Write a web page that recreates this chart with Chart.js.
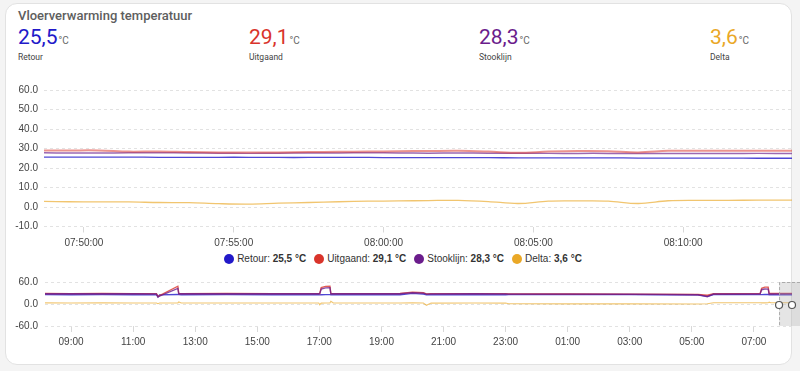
<!DOCTYPE html>
<html>
<head>
<meta charset="utf-8">
<script src="https://cdn.jsdelivr.net/npm/chart.js@4/dist/chart.umd.min.js"></script>
<style>
  body { margin: 0; width: 800px; height: 371px; background: #f4f4f4; position: relative; overflow: hidden; font-family: Roboto, sans-serif; }
  .card { position: absolute; left: 5px; top: 3px; width: 785px; height: 360px; background: #fff; border: 1px solid #e2e2e2; border-radius: 12px; }
  .titel { position: absolute; left: 18px; top: 8px; font-size: 13px; font-weight: 500; color: #5e5e5e; }
  .waarde { position: absolute; top: 27px; line-height: 1; }
  .waarde .getal { font-size: 21px; }
  .waarde .eenheid { font-size: 10px; color: #666; margin-left: 1px; }
  .naam { position: absolute; top: 52px; font-size: 8.5px; color: #444; }
  #legenda { position: absolute; left: 0; top: 253px; width: 806px; display: flex; justify-content: center; font-family: "Liberation Sans", Arial, sans-serif; font-size: 10px; color: #333; }
  #legenda .item { display: flex; align-items: center; margin: 0 4px; }
  #legenda .bol { width: 10px; height: 10px; border-radius: 50%; margin-right: 3px; }
  .grafiek { position: absolute; left: 0; width: 800px; }
</style>
</head>
<body>
<div class="card"></div>
<div class="titel">Vloerverwarming temperatuur</div>
<div id="kop"></div>
<div class="grafiek" style="top:78px;height:175px"><canvas id="grafiekBoven"></canvas></div>
<div id="legenda"></div>
<div class="grafiek" style="top:269px;height:86px"><canvas id="grafiekOnder"></canvas></div>

<script>
// reeksen
const namen = ["Retour", "Uitgaand", "Stooklijn", "Delta"];
const kleuren = ["#2219c9", "#d9342b", "#6b1d8c", "#eaa827"];
const huidig = ["25,5", "29,1", "28,3", "3,6"];
const kopX = [18, 249, 479, 710];

// bovenste grafiek (laatste 25 minuten)
const tijdenBoven = ["07:48:40", "07:49:30", "07:50:30", "07:51:30", "07:52:30", "07:53:30", "07:54:30", "07:55:30",
  "07:56:30", "07:57:30", "07:58:30", "07:59:30", "08:00:30", "08:01:30", "08:02:30", "08:03:30", "08:04:30",
  "08:05:30", "08:06:30", "08:07:30", "08:08:30", "08:09:30", "08:10:30", "08:11:30", "08:12:30", "08:13:40"];
const retourBoven = [25.6, 25.6, 25.6, 25.6, 25.5, 25.5, 25.5, 25.5, 25.4, 25.4, 25.4, 25.4, 25.3,
  25.3, 25.3, 25.3, 25.2, 25.2, 25.2, 25.2, 25.1, 25.1, 25.1, 25.1, 25.0, 25.0];
const uitgaandBoven = [29.0, 29.0, 29.0, 28.4, 28.5, 28.2, 28.0, 27.9, 28.0, 28.2, 28.3, 28.4, 28.6,
  28.7, 28.8, 28.4, 27.8, 28.4, 28.7, 28.6, 28.0, 28.8, 28.9, 28.9, 28.9, 28.9];
const stooklijnBoven = [27.8, 27.7, 27.7, 27.8, 27.8, 27.7, 27.6, 27.5, 27.6, 27.7, 27.7, 27.8, 27.7,
  27.6, 27.7, 27.6, 27.6, 27.5, 27.5, 27.5, 27.4, 27.4, 27.4, 27.4, 27.5, 27.4];
const deltaBoven = [2.9, 2.7, 2.6, 2.6, 2.3, 2.2, 1.7, 1.5, 2.0, 2.3, 2.7, 3.0, 3.1,
  3.3, 3.4, 2.8, 1.8, 3.0, 3.1, 3.0, 1.8, 3.2, 3.4, 3.4, 3.5, 3.5];
const tickLabelsBoven = ["07:50:00", "07:55:00", "08:00:00", "08:05:00", "08:10:00"];
const yTicksBoven = [-10, 0, 10, 20, 30, 40, 50, 60];

// onderste grafiek (24 uur, uren vanaf middernacht van gisteren)
const urenOnder = [8.16, 9, 10, 11, 11.75, 11.80, 11.85, 12.44, 12.47, 12.55, 14, 15.5, 16.98, 17.01, 17.06,
  17.2, 17.34, 17.37, 17.45, 18.5, 19.6, 20.0, 20.35, 20.45, 20.6, 22, 23.0, 23.1, 25, 27, 29.2, 29.5, 29.7,
  30.5, 31.2, 31.25, 31.35, 31.46, 31.49, 31.55, 32.23];
const retourOnder = [25.5, 25.4, 25.5, 25.4, 25.3, 19.0, 25.0, 26.0, 25.5, 25.4, 25.5, 25.4, 25.3, 25.0, 25.2,
  25.5, 25.6, 25.4, 25.4, 25.3, 25.4, 29.0, 27.0, 25.2, 25.3, 25.4, 25.3, 25.8, 25.9, 25.7, 24.5, 21.0, 25.5,
  25.6, 25.5, 25.6, 25.8, 25.9, 25.4, 25.3, 25.0];
const uitgaandOnder = [28.6, 28.4, 28.6, 28.3, 28.2, 20.5, 23.0, 48.5, 28.5, 28.4, 28.5, 28.3, 28.3, 28.0, 45.0,
  48.0, 48.5, 28.5, 28.3, 28.4, 28.5, 32.0, 30.5, 27.5, 28.2, 28.3, 28.3, 27.5, 27.2, 26.8, 26.0, 24.0, 28.0,
  28.3, 28.4, 43.0, 46.0, 46.0, 28.8, 28.7, 28.9];
const stooklijnOnder = [28.0, 27.9, 28.0, 27.8, 27.7, 19.5, 21.5, 42.5, 27.8, 27.8, 27.9, 27.8, 27.8, 27.6, 41.0,
  44.0, 44.5, 27.9, 27.8, 27.8, 27.9, 31.0, 29.5, 27.0, 27.7, 27.8, 27.7, 27.0, 26.8, 26.5, 25.5, 20.0, 27.2,
  27.4, 27.5, 39.0, 41.0, 40.5, 27.6, 27.5, 27.4];
const deltaOnder = [3.0, 2.9, 3.0, 2.8, 2.8, 1.0, 2.8, 3.0, 5.5, 2.8, 2.9, 2.8, 2.6, -2.0, 2.5,
  2.8, 3.0, 7.5, 2.6, 2.8, 2.8, 3.0, 2.8, -3.5, 2.5, 2.6, 2.5, 0.5, 0.4, 0.3, 0.2, 0.5, 3.6,
  3.5, 3.4, 3.2, 3.0, 3.2, 5.0, 3.4, 3.5];
const tickLabelsOnder = ["09:00", "11:00", "13:00", "15:00", "17:00", "19:00", "21:00", "23:00", "01:00", "03:00", "05:00", "07:00"];
const yTicksOnder = [-60, 0, 60];

function naarMinuten(t) {
  const p = t.split(":").map(Number);
  return p[0] * 60 + p[1] + (p[2] || 0) / 60;
}
// uren na 08:00 van gisteren; alles voor 08:00 hoort bij vandaag
function naarUren(t) {
  let u = naarMinuten(t) / 60;
  if (u < 8) u += 24;
  return u;
}
// tijden van vandaag (het venster van de bovenste grafiek)
function vandaagUren(t) {
  return naarMinuten(t) / 60 + 24;
}
const brushBegin = vandaagUren(tijdenBoven[0]);
const brushEinde = vandaagUren(tijdenBoven[tijdenBoven.length - 1]);

// kop met huidige waarden
let kopHtml = "";
namen.forEach((naam, i) => {
  kopHtml += `<div class="waarde" style="left:${kopX[i]}px;color:${kleuren[i]}"><span class="getal">${huidig[i]}</span><span class="eenheid">°C</span></div>
    <div class="naam" style="left:${kopX[i]}px">${naam}</div>`;
});
document.querySelector("#kop").innerHTML = kopHtml;

// legenda
let legHtml = "";
namen.forEach((naam, i) => {
  legHtml += `<div class="item"><div class="bol" style="background:${kleuren[i]}"></div>${naam}:&nbsp;<b>${huidig[i]} °C</b></div>`;
});
document.querySelector("#legenda").innerHTML = legHtml;

Chart.defaults.font.family = "'Liberation Sans', Arial, sans-serif";
Chart.defaults.color = "#444";

function punten(xs, ys) {
  return xs.map((x, i) => ({ x: x, y: ys[i] }));
}

const minutenBoven = tijdenBoven.map(naarMinuten);
const reeksenBoven = [retourBoven, uitgaandBoven, stooklijnBoven, deltaBoven];
const breedteBoven = [1.3, 2, 1.5, 1.3];
const alphaBoven = ["cc", "88", "aa", "aa"];

new Chart(document.querySelector("#grafiekBoven"), {
  type: "line",
  data: {
    datasets: namen.map((naam, i) => ({
      label: naam,
      data: punten(minutenBoven, reeksenBoven[i]),
      borderColor: kleuren[i] + alphaBoven[i],
      borderWidth: breedteBoven[i],
      pointRadius: 0,
      tension: 0.35,
    })),
  },
  options: {
    animation: false,
    responsive: true,
    maintainAspectRatio: false,
    layout: { padding: { top: 10, right: 8, left: 0, bottom: 0 } },
    plugins: { legend: { display: false }, tooltip: { enabled: false } },
    scales: {
      x: {
        type: "linear",
        min: naarMinuten("07:48:40"),
        max: naarMinuten("08:13:38"),
        afterFit: (scale) => { scale.height = 26.5; },
        afterBuildTicks: (scale) => {
          scale.ticks = tickLabelsBoven.map((l) => ({ value: naarMinuten(l) }));
        },
        ticks: {
          callback: (v, i) => tickLabelsBoven[i],
          font: { size: 10 },
          padding: 5,
          maxRotation: 0,
        },
        grid: { drawOnChartArea: false, tickLength: 6, color: "#d8d8d8" },
        border: { display: false },
      },
      y: {
        min: -10,
        max: 60,
        afterFit: (scale) => { scale.width = 44; },
        afterBuildTicks: (scale) => {
          scale.ticks = yTicksBoven.map((v) => ({ value: v }));
        },
        ticks: { callback: (v) => v.toFixed(1), font: { size: 10 }, padding: 6 },
        grid: { color: "#e2e2e2", drawTicks: false },
        border: { display: false, dash: [3, 3] },
      },
    },
  },
});

// grijze selectie (brush) van de laatste 25 minuten
const brushPlugin = {
  id: "brush",
  afterDatasetsDraw(chart) {
    const ctx = chart.ctx;
    const xs = chart.scales.x;
    const a = chart.chartArea;
    const x0 = xs.getPixelForValue(brushBegin);
    const x1 = xs.getPixelForValue(brushEinde);
    ctx.save();
    ctx.fillStyle = "rgba(170,170,170,0.3)";
    ctx.fillRect(x0, a.top, chart.width - x0, a.bottom - a.top);
    ctx.strokeStyle = "#aaa";
    ctx.setLineDash([3, 2]);
    ctx.lineWidth = 1;
    ctx.beginPath();
    ctx.moveTo(chart.width, a.top + 0.5);
    ctx.lineTo(x0 + 0.5, a.top + 0.5);
    ctx.lineTo(x0 + 0.5, a.bottom);
    ctx.stroke();
    ctx.setLineDash([]);
    const midden = (a.top + a.bottom) / 2 + 1;
    [x0, x1].forEach((x) => {
      ctx.beginPath();
      ctx.arc(x, midden, 3.5, 0, Math.PI * 2);
      ctx.fillStyle = "#fff";
      ctx.fill();
      ctx.strokeStyle = "#555";
      ctx.lineWidth = 1.2;
      ctx.stroke();
    });
    ctx.restore();
  },
};

const reeksenOnder = [retourOnder, uitgaandOnder, stooklijnOnder, deltaOnder];
const volgordeOnder = [3, 2, 1, 4];

new Chart(document.querySelector("#grafiekOnder"), {
  type: "line",
  data: {
    datasets: namen.map((naam, i) => ({
      label: naam,
      data: punten(urenOnder, reeksenOnder[i]),
      borderColor: kleuren[i] + (i == 3 ? "aa" : "cc"),
      borderWidth: i == 3 ? 1.1 : 1.4,
      pointRadius: 0,
      tension: 0,
      order: volgordeOnder[i],
    })),
  },
  options: {
    animation: false,
    responsive: true,
    maintainAspectRatio: false,
    layout: { padding: { top: 10, right: 8, left: 0, bottom: 0 } },
    plugins: { legend: { display: false }, tooltip: { enabled: false } },
    scales: {
      x: {
        type: "linear",
        min: 8.16,
        max: brushEinde,
        afterFit: (scale) => { scale.height = 29; },
        afterBuildTicks: (scale) => {
          scale.ticks = tickLabelsOnder.map((l) => ({ value: naarUren(l) }));
        },
        ticks: {
          callback: (v, i) => tickLabelsOnder[i],
          font: { size: 10 },
          padding: 4,
          maxRotation: 0,
        },
        grid: { drawOnChartArea: false, tickLength: 6, color: "#d8d8d8" },
        border: { display: false },
      },
      y: {
        min: -60,
        max: 60,
        afterFit: (scale) => { scale.width = 45; },
        afterBuildTicks: (scale) => {
          scale.ticks = yTicksOnder.map((v) => ({ value: v }));
        },
        ticks: { callback: (v) => v.toFixed(1), font: { size: 10 }, padding: 7 },
        grid: { color: "#e2e2e2", drawTicks: false },
        border: { display: false, dash: [3, 3] },
      },
    },
  },
  plugins: [brushPlugin],
});
</script>
</body>
</html>
